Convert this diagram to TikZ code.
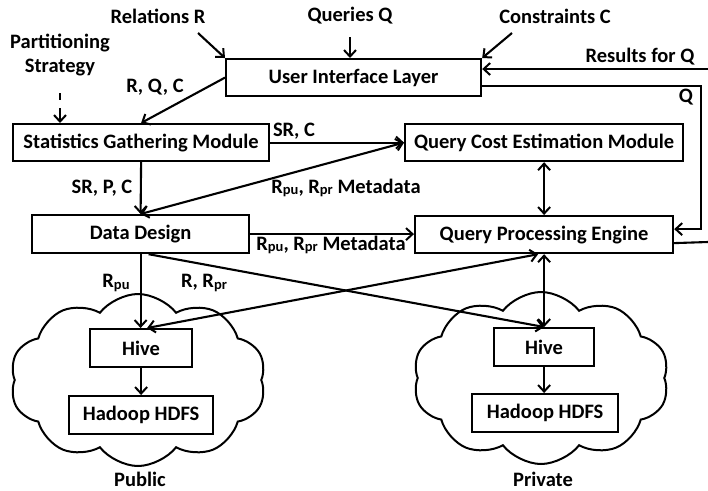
\documentclass[tikz,border=0pt]{standalone}
\usepackage{fontspec}
\setmainfont{Carlito}
\usetikzlibrary{arrows.meta,shapes.symbols}

% subscript used in R_pu / R_pr
\newcommand{\sbs}[1]{\raisebox{-1.5pt}{\fontsize{14.5}{14.5}\selectfont #1}}

\begin{document}
\begin{tikzpicture}[x=1pt,y=-1pt,
  font=\bfseries\fontsize{20.5}{22}\selectfont,
  box/.style={draw, line width=2.2pt, inner sep=0pt, anchor=north west},
  lbl/.style={inner sep=0pt},
  conn/.style={line width=2.1pt, -{Straight Barb[length=6.5pt,width=12pt,line width=2pt]}},
  both/.style={line width=2.1pt, {Straight Barb[length=6.5pt,width=12pt,line width=2pt]}-{Straight Barb[length=6.5pt,width=12pt,line width=2pt]}},
  plain/.style={line width=2.1pt},
  cloudy/.style={cloud, draw, line width=2pt, cloud puffs=10, cloud puff arc=105, aspect=1.47}
]
\useasboundingbox (0,0) rectangle (708,490);

% clouds
\node[cloudy, minimum width=256pt, minimum height=172pt] (pubcloud) at (138,380) {};
\node[cloudy, minimum width=256pt, minimum height=172pt] (pricloud) at (541,378) {};

% boxes
\node[box, minimum width=255pt, minimum height=37pt] (ui) at (225,58) {User Interface Layer};
\node[box, minimum width=256pt, minimum height=37pt] (stats) at (12,123) {Statistics Gathering Module};
\node[box, minimum width=278pt, minimum height=37pt] (qce) at (404,123) {Query Cost Estimation Module};
\node[box, minimum width=217pt, minimum height=38pt] (dd) at (31,214) {Data Design};
\node[box, minimum width=258pt, minimum height=37pt] (qpe) at (414,215) {Query Processing Engine};
\node[box, minimum width=102pt, minimum height=38pt] (hive1) at (89,328) {Hive};
\node[box, minimum width=144pt, minimum height=38pt] (hdfs1) at (68,395) {Hadoop HDFS};
\node[box, minimum width=100pt, minimum height=38pt] (hive2) at (493,327) {Hive};
\node[box, minimum width=146pt, minimum height=38pt] (hdfs2) at (471,393) {Hadoop HDFS};

% outside inputs
\node[lbl] (rel) at (158,16) {Relations R};
\node[lbl] (qry) at (350,16) {Queries Q};
\node[lbl] (con) at (555,16) {Constraints C};
\node[lbl, align=center] (part) at (60,55) {Partitioning\\[2pt]Strategy};
\node[lbl] (res) at (640,57) {Results for Q};

\coordinate (relS) at (198,33);
\coordinate (conS) at (512,33);
\coordinate (resS) at (708,69);
\coordinate (partA) at (60,93);
\coordinate (partB) at (60,100);
\coordinate (partC) at (60,108);

\draw[conn] (relS) -- (ui.north west);
\draw[conn] (qry.south |- 0,37) -- (qry.south |- ui.north);
\draw[conn] (conS) -- (ui.north east);
\draw[conn] (resS) -- (resS -| ui.east);
\draw[plain] (partA) -- (partB);
\draw[conn] (partC) -- (partC |- stats.north);

% query loop to the engine
\draw[conn] ([yshift=-8.5pt]ui.east) -| (701,150) |- ([yshift=5.5pt]qpe.east);
\node[lbl] (qlbl) at (686,97) {Q};
\draw[plain] ([yshift=-8.5pt]qpe.east) -- (708,242);

% module connections
\draw[conn] (ui.west) -- (stats.north);
\node[lbl] at (155,87) {R, Q, C};

\draw[conn] (stats.east) -- (qce.west);
\node[lbl] at (294,131) {SR, C};

\draw[conn] (stats.south) -- (dd.north);
\node[lbl] at (102,188) {SR, P, C};

\draw[both] (dd.north) -- (qce.west);
\node[lbl] at (346,188) {R\sbs{pu}, R\sbs{pr} Metadata};

\draw[conn] (dd.east) -- (dd.east -| qpe.west);
\node[lbl] at (331,245) {R\sbs{pu}, R\sbs{pr} Metadata};

\draw[both] (qce.south) -- (qpe.north);

\draw[conn] (dd.south) -- (dd.south |- hive1.north);
\node[lbl] at (116,283) {R\sbs{pu}};

\draw[conn] ([xshift=8pt]dd.south) -- (hive2.north);
\node[lbl] at (204,283) {R, R\sbs{pr}};

\draw[both] (qpe.south) -- (qpe.south |- hive2.north);
\draw[both] ([xshift=-6pt]qpe.south) -- ([xshift=6pt]hive1.north);

\draw[conn] (hive1.south) -- (hive1.south |- hdfs1.north);
\draw[conn] (hive2.south) -- (hive2.south |- hdfs2.north);

\node[lbl] at (140,479) {Public};
\node[lbl] at (543,479) {Private};
\end{tikzpicture}
\end{document}
